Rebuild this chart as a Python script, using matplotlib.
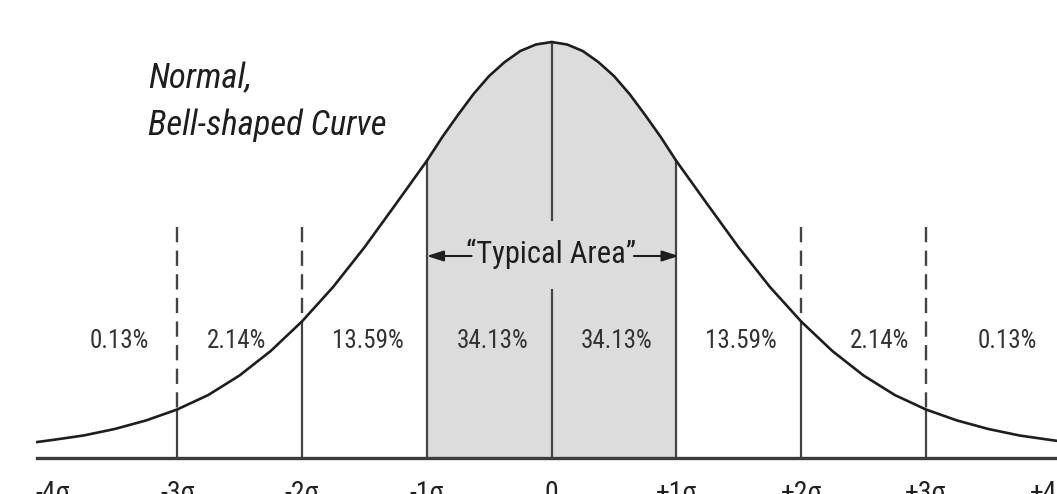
import matplotlib
matplotlib.use('Agg')
import matplotlib.pyplot as plt

# Curve heights (right half, in sigma units / pixel height)
half_x = [0, 0.125, 0.25, 0.375, 0.5, 0.625, 0.75, 0.875, 1.0, 1.25, 1.5, 1.75,
          2.0, 2.25, 2.5, 2.75, 3.0, 3.25, 3.5, 3.75, 4.0, 4.12]
half_h = [416, 413.5, 407, 396, 382, 364, 343, 321, 297, 253.5, 210.5, 171,
          136.5, 107, 82.5, 63, 48.5, 37.5, 29, 22.5, 18, 16]

# sigma marker lines
sigma_pos = [-3, -2, -1, 1, 2, 3]
dashed_top = 231

# percentage labels in each band
pct_labels = ['0.13%', '2.14%', '13.59%', '34.13%', '34.13%', '13.59%', '2.14%', '0.13%']
pct_x = [-3.46, -2.52, -1.47, -0.47, 0.52, 1.52, 2.63, 3.65]

# axis labels under the baseline
tick_pos = [-4, -3, -2, -1, 0, 1, 2, 3, 4]
tick_labels = ['-4σ', '-3σ', '-2σ', '-1σ', '0', '+1σ', '+2σ', '+3σ', '+4σ']

# mirror the half curve
curve_x = [-v for v in half_x[::-1]] + half_x[1:]
curve_h = half_h[::-1] + half_h[1:]

plt.rcParams['font.family'] = ['Roboto Condensed', 'DejaVu Sans']
plt.rcParams['lines.scale_dashes'] = False

fig = plt.figure(figsize=(10.57, 4.94), dpi=100)
ax = fig.add_axes([0, 0, 1, 1])
ax.axis('off')
ax.set_xlim(-4.419, 4.05)
ax.set_ylim(-36, 458)

# Shade the "typical area" between -1 and +1 sigma
mid = [i for i, v in enumerate(curve_x) if -1 <= v <= 1]
ax.fill_between([curve_x[i] for i in mid], [curve_h[i] for i in mid], 0,
                color='#dcdcdc', lw=0, zorder=1)

# Vertical sigma lines
line_col = '#444444'
for s in sigma_pos:
    h = curve_h[curve_x.index(float(s))]
    ax.plot([s, s], [0, h], color=line_col, lw=1.6, zorder=2)
    if abs(s) >= 2:
        ax.plot([s, s], [dashed_top, h], color=line_col, lw=1.7,
                linestyle=(0, (11, 6)), zorder=2)

# Centre line with gap for the text
ax.plot([0, 0], [0, 168], color=line_col, lw=1.6, zorder=2)
ax.plot([0, 0], [238, 416], color=line_col, lw=1.6, zorder=2)

# The curve and the baseline
ax.plot(curve_x, curve_h, color='#1e1e1e', lw=1.9, zorder=3)
ax.plot([-4.12, 4.2], [0, 0], color='#3c3c3c', lw=2.4, zorder=3)

# Typical area label with arrows
ax.text(0, 204, '\u201cTypical Area\u201d', ha='center', va='center', fontsize=22,
        color='#1e1e1e', zorder=4)
arrow = dict(arrowstyle='-|>,head_length=1.0,head_width=0.32', lw=1.5,
             color='#1e1e1e', shrinkA=0, shrinkB=0)
ax.annotate('', xy=(-1, 202), xytext=(-0.64, 202), arrowprops=arrow, zorder=4)
ax.annotate('', xy=(1.02, 202), xytext=(0.66, 202), arrowprops=arrow, zorder=4)

# Percentages
for x, t in zip(pct_x, pct_labels):
    ax.text(x, 117, t, ha='center', va='center', fontsize=18, color='#333333', zorder=4)

# Title
ax.text(-3.233, 370, 'Normal,', fontsize=25, style='italic', color='#1e1e1e', va='baseline')
ax.text(-3.233, 323, 'Bell-shaped Curve', fontsize=25, style='italic', color='#1e1e1e',
        va='baseline')

# Sigma labels along the bottom (cut off by the frame as in the original)
for x, t in zip(tick_pos, tick_labels):
    ax.text(x, -22, t, ha='center', va='top', fontsize=20, color='#222222')

fig.savefig('out.png', dpi=100)
